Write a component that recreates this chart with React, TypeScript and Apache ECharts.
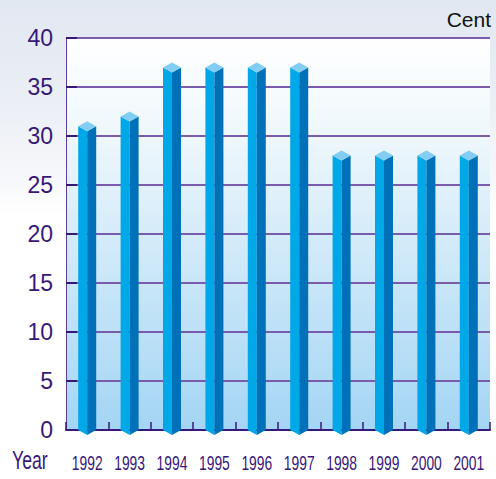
import React, { useEffect, useRef } from "react";
import * as echarts from "echarts";

const years = ["1992", "1993", "1994", "1995", "1996", "1997", "1998", "1999", "2000", "2001"];
const cents = [31, 32, 37, 37, 37, 37, 28, 28, 28, 28];
const yTicks = { min: 0, max: 40, interval: 5 };
const yUnit = "Cent";
const xName = "Year";

const PURPLE = "#361878";

export default function App() {
  const ref = useRef<HTMLDivElement>(null);
  useEffect(() => {
    if (!ref.current) return;
    const chart = echarts.init(ref.current, undefined, { renderer: "svg" });
    const halfW = 9;
    const dy = 5;
    chart.setOption({
      animation: false,
      backgroundColor: "transparent",
      grid: {
        left: 66,
        right: 6,
        top: 38,
        bottom: 49,
        show: true,
        borderWidth: 0,
        backgroundColor: new echarts.graphic.LinearGradient(0, 0, 0, 1, [
          { offset: 0, color: "#ffffff" },
          { offset: 0.25, color: "#eef7fc" },
          { offset: 1, color: "#a3d5f4" },
        ]),
      },
      xAxis: {
        type: "category",
        data: years,
        boundaryGap: true,
        axisLine: { lineStyle: { color: PURPLE, width: 2 } },
        axisTick: { show: true, inside: true, length: 8, interval: 0, lineStyle: { color: PURPLE, width: 1.5 } },
        axisLabel: { show: false },
      },
      yAxis: {
        type: "value",
        min: yTicks.min,
        max: yTicks.max,
        interval: yTicks.interval,
        axisLine: { show: true, lineStyle: { color: "#5b3d9a", width: 1 } },
        axisTick: { show: true, inside: true, length: 11, lineStyle: { color: PURPLE, width: 2 } },
        splitLine: { show: true, lineStyle: { color: "#7a5cae", width: 2 } },
        axisLabel: {
          margin: 13,
          color: PURPLE,
          fontFamily: "Liberation Sans",
          fontSize: 23,
        },
      },
      graphic: [
        {
          type: "text",
          x: 12,
          y: 460,
          scaleX: 0.68,
          style: {
            x: 0,
            y: 0,
            text: xName,
            fill: PURPLE,
            font: '26px "Liberation Sans"',
            align: "left",
            verticalAlign: "middle",
          },
        },
        {
          type: "text",
          x: 491,
          y: 19,
          style: {
            x: 0,
            y: 0,
            text: yUnit,
            fill: "#111111",
            font: '21px "Liberation Sans"',
            align: "right",
            verticalAlign: "middle",
          },
        },
      ],
      series: [
        {
          type: "custom",
          data: cents.map((v, i) => [i, v]),
          encode: { x: 0, y: 1 },
          renderItem: (params: any, api: any) => {
            const idx = api.value(0);
            const top = api.coord([idx, api.value(1)]);
            const bot = api.coord([idx, 0]);
            const cx = top[0];
            const ty = top[1];
            const by = bot[1];
            return {
              type: "group",
              children: [
                {
                  type: "polygon",
                  shape: { points: [[cx - halfW, ty], [cx, ty + dy], [cx, by + dy], [cx - halfW, by]] },
                  style: { fill: "#00a8e8" },
                },
                {
                  type: "polygon",
                  shape: { points: [[cx, ty + dy], [cx + halfW, ty], [cx + halfW, by], [cx, by + dy]] },
                  style: { fill: "#0071b8" },
                },
                {
                  type: "polygon",
                  shape: { points: [[cx - halfW, ty], [cx, ty - dy], [cx + halfW, ty], [cx, ty + dy]] },
                  style: { fill: "#82cdf3" },
                },
                {
                  type: "text",
                  x: cx,
                  y: by + 33,
                  scaleX: 0.66,
                  style: {
                    x: 0,
                    y: 0,
                    text: years[idx],
                    fill: PURPLE,
                    font: '21px "Liberation Sans"',
                    align: "center",
                    verticalAlign: "middle",
                  },
                },
              ],
            };
          },
        },
      ],
    });
    return () => chart.dispose();
  }, []);
  return (
    <div
      style={{
        position: "fixed",
        left: 0,
        top: 0,
        width: 496,
        height: 479,
        background: "linear-gradient(to bottom, #e2e8f1 0%, #eaeef5 20%, #f7f8fb 38%, #ffffff 45%, #ffffff 100%)",
      }}
    >
      <div ref={ref} style={{ width: 496, height: 479 }} />
    </div>
  );
}
